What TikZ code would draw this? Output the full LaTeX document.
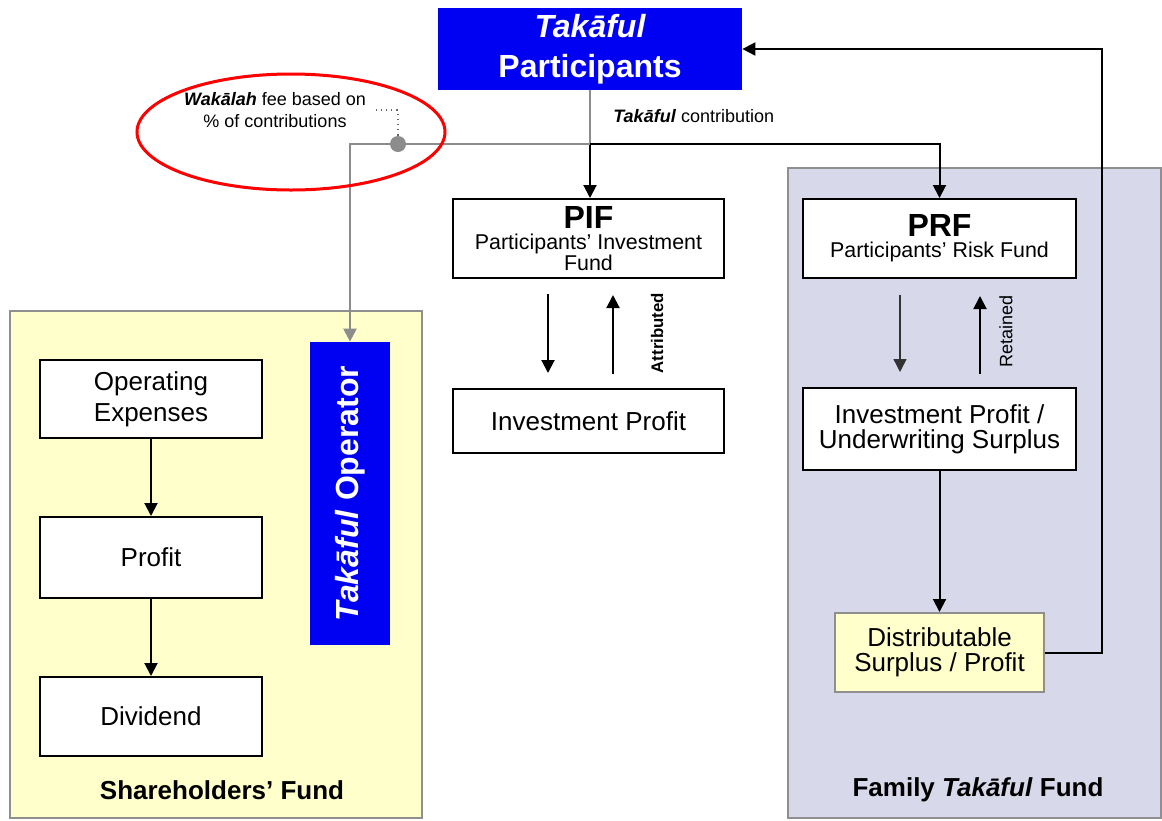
\documentclass[tikz,border=0pt]{standalone}
\usepackage{fontspec}
\setmainfont{Liberation Sans}
\usetikzlibrary{arrows.meta,shapes.geometric}
\definecolor{tblue}{HTML}{0000F2}
\definecolor{shyel}{HTML}{FFFFCC}
\definecolor{ftlav}{HTML}{D8D8EB}
\definecolor{conn}{HTML}{8C8C8C}
\definecolor{edge}{HTML}{8F8F8F}
\tikzset{
  box/.style={draw=black, line width=1pt, fill=white, align=center, inner sep=0pt,
    font=\fontsize{13}{12.5}\selectfont},
  sub/.style={box, font=\fontsize{10.7}{10.5}\selectfont},
  bluebox/.style={fill=tblue, text=white, align=center, inner sep=0pt,
    font=\bfseries\fontsize{16}{20}\selectfont},
  fund/.style={draw=edge, line width=1pt, inner sep=0pt},
  arr/.style={draw=black, line width=1pt, -{Triangle[length=6.5pt,width=6.5pt]}},
  thinarr/.style={draw=black!80, line width=0.7pt, -{Triangle[length=6.5pt,width=6.5pt]}},
  gline/.style={draw=conn, line width=1.2pt},
  garr/.style={gline, -{Triangle[length=6.5pt,width=6.5pt]}},
  leader/.style={draw=black!60, dotted, line width=0.6pt},
  gdot/.style={circle, fill=conn, inner sep=0pt, minimum size=8pt},
  ring/.style={ellipse, draw=red, line width=1.5pt, minimum width=154pt, minimum height=58pt},
  small/.style={align=center, inner sep=0pt, font=\fontsize{9}{11}\selectfont},
  lab/.style={font=\bfseries\fontsize{13}{15}\selectfont},
}
\begin{document}
\begin{tikzpicture}[x=0.5pt,y=-0.5pt]
  \useasboundingbox (0,0) rectangle (1162,820);
  % fund areas
  \node[fund, fill=shyel, minimum width=206pt, minimum height=253.5pt] (shf) at (216,564.5) {};
  \node[fund, fill=ftlav, minimum width=186.5pt, minimum height=325pt] (ftf) at (974.5,493) {};
  \node[lab] (shflab) at (222,790) {Shareholders’ Fund};
  \node[lab] (ftflab) at (978,790) {Family \textit{Takāful} Fund};
  % boxes
  \node[bluebox, minimum width=152pt, minimum height=41pt] (part) at (590,49) {\itshape Takāful\\Participants};
  \node[sub, minimum width=135.5pt, minimum height=39.5pt] (pif) at (588.5,238.5)
    {{\bfseries\fontsize{16}{14}\selectfont PIF}\\Participants’ Investment\\Fund};
  \node[box, minimum width=135.5pt, minimum height=32pt] (invp) at (588.5,421) {Investment Profit};
  \node[sub, minimum width=136.5pt, minimum height=39.5pt] (prf) at (939.5,238.5)
    {{\bfseries\fontsize{16}{14}\selectfont PRF}\\Participants’ Risk Fund};
  \node[box, minimum width=136.5pt, minimum height=41pt] (invuw) at (939.5,429) {Investment Profit /\\Underwriting Surplus};
  \node[box, draw=edge, fill=shyel, minimum width=104.5pt, minimum height=39.5pt] (dist) at (939.5,652.5) {Distributable\\Surplus / Profit};
  \node[box, minimum width=111pt, minimum height=39pt, font=\fontsize{13}{15.5}\selectfont] (opex) at (151,399) {Operating\\Expenses};
  \node[box, minimum width=111pt, minimum height=40.5pt] (profit) at (151,557.5) {Profit};
  \node[box, minimum width=111pt, minimum height=39.5pt] (divd) at (151,716.5) {Dividend};
  \node[bluebox, minimum width=40pt, minimum height=151.5pt] (oper) at (350,493.5) {\rotatebox{90}{\textit{Takāful} Operator}};
  % contributions
  \coordinate (split) at (590,144);
  \draw[gline] (part.south) -- (split);
  \draw[arr] (split) -- (split |- pif.north);
  \draw[arr] (split) -| (prf.north);
  \draw[garr] (split) -| (oper.north);
  \node[gdot] (fee) at (398,144) {};
  \coordinate (feetip) at (375,110);
  \draw[leader] (fee) |- (feetip);
  \node[small] (feetext) at (275,110) {\textbf{\textit{Wakālah}} fee based on\\\% of contributions};
  \node[small, anchor=west] (contr) at (613,116) {\textbf{\textit{Takāful}} contribution};
  \node[ring] (circ) at (291,132) {};
  % investment flows
  \draw[arr, shorten <=7.5pt, shorten >=7.5pt] ([xshift=-20.25pt]pif.south) -- ([xshift=-20.25pt]invp.north);
  \draw[arr, shorten <=7pt, shorten >=8pt] ([xshift=12.25pt]invp.north) -- ([xshift=12.25pt]pif.south);
  \node[small, rotate=90, font=\bfseries\fontsize{8.4}{10}\selectfont] (attr) at (657,333) {Attributed};
  \draw[thinarr, shorten <=8pt, shorten >=7.5pt] ([xshift=-19.75pt]prf.south) -- ([xshift=-19.75pt]invuw.north);
  \draw[arr, shorten <=6.5pt, shorten >=8.5pt] ([xshift=20.25pt]invuw.north) -- ([xshift=20.25pt]prf.south);
  \node[small, rotate=90] (ret) at (1006,331) {Retained};
  \draw[arr] (invuw.south) -- (dist.north);
  \draw[arr] (dist.east) -- ++(28.5pt,0) |- (part.east);
  % shareholders
  \draw[arr] (opex) -- (profit);
  \draw[arr] (profit) -- (divd);
\end{tikzpicture}
\end{document}
